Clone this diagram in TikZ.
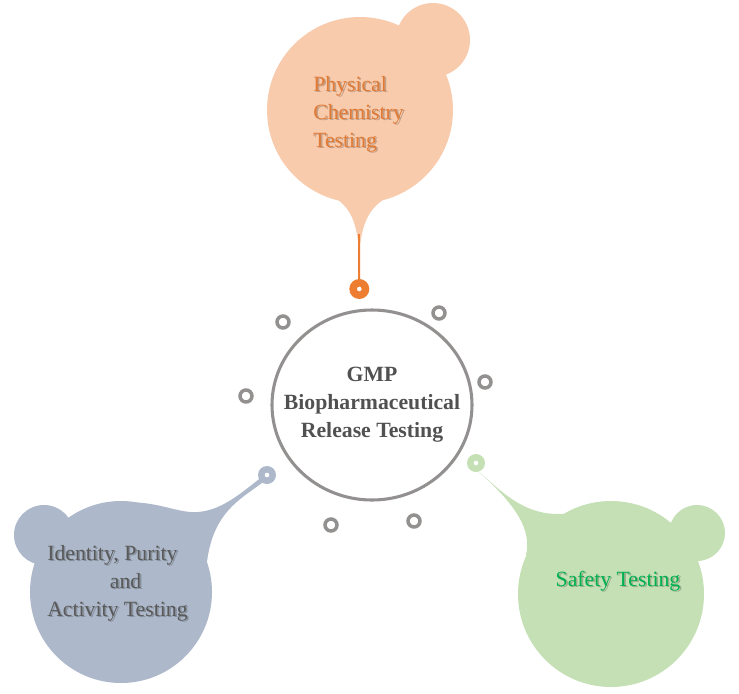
\documentclass[tikz,border=0pt]{standalone}
\usepackage{fontspec}
\setmainfont{Liberation Serif}
\usetikzlibrary{shapes.geometric}
\definecolor{peach}{HTML}{F8CBAD}
\definecolor{orangeD}{HTML}{ED7D31}
\definecolor{orangeT}{HTML}{E07A35}
\definecolor{bluegray}{HTML}{ADB9CA}
\definecolor{greenL}{HTML}{C5E0B4}
\definecolor{greenT}{HTML}{00B050}
\definecolor{ringgray}{HTML}{939090}
\definecolor{hubtext}{HTML}{515151}
\definecolor{lefttext}{HTML}{595959}
\begin{document}
\begin{tikzpicture}[x=0.75pt,y=-0.75pt,
  ring/.style={circle,draw=ringgray,line width=2.6pt,minimum size=9pt,inner sep=0pt},
  blobtext/.style={font=\fontsize{16.3}{21}\selectfont,inner sep=0pt},
  shadowtext/.style={blobtext,text=black,text opacity=0.22},
  dotw/.style={fill=white}]
\useasboundingbox (0,0) rectangle (739,693);

% ---------- top blob (peach)
\fill[peach] (433,40) circle (37);
\fill[peach] (360,110) circle (93);
\fill[peach] (328,194) .. controls (350,204) and (356,222) .. (358.3,244)
  -- (358.3,283) -- (360.3,283) -- (360.3,244)
  .. controls (363,222) and (370,204) .. (394,194) -- cycle;
\draw[orangeD,line width=1.5pt] (359.3,234) -- (359.3,282);
\fill[orangeD] (359.3,289) circle (10);
\fill[dotw] (359.3,289) circle (2.3);

% ---------- left blob (blue gray)
\fill[bluegray] (44,535) circle (30);
\fill[bluegray] (121,592) circle (91);
\fill[bluegray] (110,505) .. controls (150,496) and (175,514) .. (198,512)
  .. controls (222,510) and (240,494) .. (263,476)
  -- (266,480) .. controls (240,500) and (210,512) .. (206,572)
  -- (140,572) -- cycle;
\fill[bluegray] (267,475) circle (9);
\fill[dotw] (267,475) circle (2.3);

% ---------- right blob (green)
\fill[greenL] (697,533) circle (28);
\fill[greenL] (611,594) circle (93);
\fill[greenL] (473,467) .. controls (495,484) and (518,514) .. (558,514)
  .. controls (580,514) and (590,507) .. (610,503)
  -- (610,570) -- (526,555)
  .. controls (532,530) and (516,505) .. (479,472) -- cycle;
\fill[greenL] (476,463) circle (9);
\fill[dotw] (476,463) circle (2.3);

% ---------- hub
\node[ellipse,draw=ringgray,line width=2.3pt,minimum width=150pt,minimum height=142.5pt,inner sep=0pt] (hub) at (372,405) {};
\node[font=\bfseries\fontsize{16.3}{21}\selectfont,text=hubtext,align=center,inner sep=0pt] (hubtext) at (372,405)
  {GMP\\Biopharmaceutical\\Release Testing};

% ---------- small rings
\node[ring] (r1) at (283,322) {};
\node[ring] (r2) at (439,313) {};
\node[ring] (r3) at (485,382) {};
\node[ring] (r4) at (246,396) {};
\node[ring] (r5) at (331,525) {};
\node[ring] (r6) at (414,521) {};

% ---------- texts (soft shadow beneath)
\node[shadowtext,align=left,anchor=west] (physS) at (314.6,115.6)
  {Physical\\Chemistry\\Testing};
\node[blobtext,text=orangeT,align=left,anchor=west] (phys) at (313,114)
  {Physical\\Chemistry\\Testing};
\node[shadowtext,align=left,anchor=west] (identS) at (48.6,584.6)
  {Identity, Purity\\\hspace*{47pt}and\\Activity Testing};
\node[blobtext,text=lefttext,align=left,anchor=west] (ident) at (47,583)
  {Identity, Purity\\\hspace*{47pt}and\\Activity Testing};
\node[shadowtext] (safetyS) at (619.6,582.6) {Safety Testing};
\node[blobtext,text=greenT] (safety) at (618,581) {Safety Testing};
\end{tikzpicture}
\end{document}
